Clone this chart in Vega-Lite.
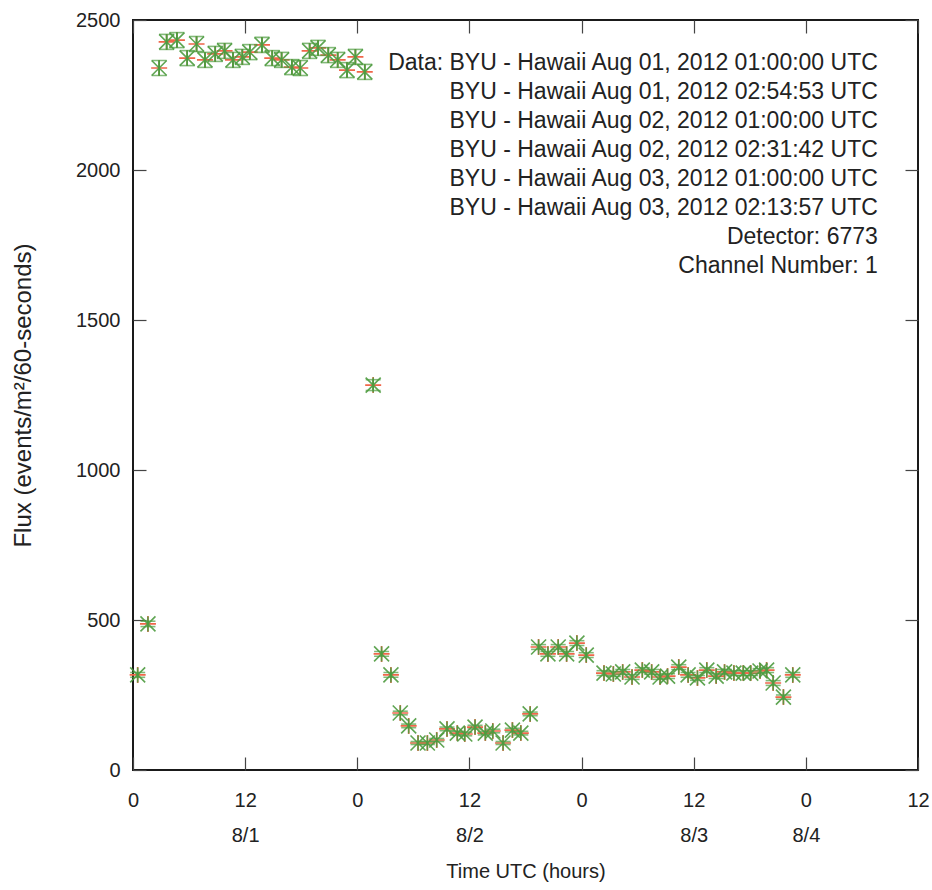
{
  "$schema": "https://vega.github.io/schema/vega-lite/v6.json",
  "width": 785,
  "height": 750,
  "autosize": "none",
  "padding": {"left": 133, "top": 20, "right": 14, "bottom": 120},
  "background": "white",
  "config": {
    "font": "Liberation Sans",
    "view": {"stroke": "#1a1a1a", "strokeWidth": 2},
    "axis": {"grid": false, "domain": false, "tickColor": "#444", "tickWidth": 1.2, "labelColor": "#222", "titleColor": "#222", "labelFont": "Liberation Sans", "titleFont": "Liberation Sans", "titleFontWeight": "normal"}
  },
  "data": {"values": [
    {"h": 0.5, "flux": 317, "err": 8},
    {"h": 1.6, "flux": 487, "err": 9},
    {"h": 2.8, "flux": 2340, "err": 25},
    {"h": 3.6, "flux": 2427, "err": 25},
    {"h": 4.7, "flux": 2433, "err": 25},
    {"h": 5.8, "flux": 2373, "err": 25},
    {"h": 6.8, "flux": 2420, "err": 25},
    {"h": 7.7, "flux": 2367, "err": 25},
    {"h": 8.8, "flux": 2387, "err": 25},
    {"h": 9.8, "flux": 2397, "err": 25},
    {"h": 10.7, "flux": 2367, "err": 25},
    {"h": 11.7, "flux": 2377, "err": 25},
    {"h": 12.5, "flux": 2393, "err": 25},
    {"h": 13.8, "flux": 2417, "err": 25},
    {"h": 14.9, "flux": 2373, "err": 25},
    {"h": 15.9, "flux": 2367, "err": 25},
    {"h": 17.0, "flux": 2343, "err": 25},
    {"h": 17.9, "flux": 2340, "err": 25},
    {"h": 18.9, "flux": 2397, "err": 25},
    {"h": 19.8, "flux": 2407, "err": 25},
    {"h": 20.9, "flux": 2383, "err": 25},
    {"h": 21.9, "flux": 2367, "err": 25},
    {"h": 22.9, "flux": 2333, "err": 25},
    {"h": 23.8, "flux": 2377, "err": 25},
    {"h": 24.8, "flux": 2327, "err": 25},
    {"h": 25.7, "flux": 1283, "err": 18},
    {"h": 26.6, "flux": 387, "err": 8},
    {"h": 27.6, "flux": 317, "err": 8},
    {"h": 28.6, "flux": 190, "err": 6},
    {"h": 29.5, "flux": 147, "err": 6},
    {"h": 30.5, "flux": 90, "err": 5},
    {"h": 31.5, "flux": 90, "err": 5},
    {"h": 32.5, "flux": 100, "err": 5},
    {"h": 33.6, "flux": 137, "err": 6},
    {"h": 34.7, "flux": 123, "err": 6},
    {"h": 35.5, "flux": 120, "err": 6},
    {"h": 36.6, "flux": 143, "err": 6},
    {"h": 37.7, "flux": 123, "err": 6},
    {"h": 38.5, "flux": 130, "err": 6},
    {"h": 39.6, "flux": 90, "err": 5},
    {"h": 40.6, "flux": 133, "err": 6},
    {"h": 41.5, "flux": 123, "err": 6},
    {"h": 42.5, "flux": 187, "err": 6},
    {"h": 43.4, "flux": 410, "err": 8},
    {"h": 44.4, "flux": 387, "err": 8},
    {"h": 45.5, "flux": 410, "err": 8},
    {"h": 46.4, "flux": 387, "err": 8},
    {"h": 47.5, "flux": 423, "err": 8},
    {"h": 48.5, "flux": 383, "err": 8},
    {"h": 50.4, "flux": 323, "err": 8},
    {"h": 51.4, "flux": 320, "err": 8},
    {"h": 52.4, "flux": 327, "err": 8},
    {"h": 53.4, "flux": 310, "err": 8},
    {"h": 54.5, "flux": 333, "err": 8},
    {"h": 55.5, "flux": 327, "err": 8},
    {"h": 56.4, "flux": 310, "err": 8},
    {"h": 57.2, "flux": 313, "err": 8},
    {"h": 58.4, "flux": 343, "err": 8},
    {"h": 59.4, "flux": 317, "err": 8},
    {"h": 60.4, "flux": 307, "err": 8},
    {"h": 61.4, "flux": 333, "err": 8},
    {"h": 62.4, "flux": 313, "err": 8},
    {"h": 63.3, "flux": 327, "err": 8},
    {"h": 64.3, "flux": 323, "err": 8},
    {"h": 65.3, "flux": 323, "err": 8},
    {"h": 66.1, "flux": 323, "err": 8},
    {"h": 67.1, "flux": 330, "err": 8},
    {"h": 67.8, "flux": 333, "err": 8},
    {"h": 68.5, "flux": 290, "err": 8},
    {"h": 69.6, "flux": 243, "err": 7},
    {"h": 70.6, "flux": 317, "err": 8}
  ]},
  "layer": [
    {
      "mark": {"type": "point", "shape": "M-1,0L1,0M0,-1L0,1", "filled": false, "size": 256, "color": "#f0664a", "strokeWidth": 1.6, "opacity": 1},
      "encoding": {
        "x": {"field": "h", "type": "quantitative", "scale": {"domain": [0, 84], "nice": false, "zero": false},
          "axis": {"orient": "bottom", "values": [0, 12, 24, 36, 48, 60, 72, 84], "tickSize": -13, "labelPadding": 33, "labelFontSize": 20, "labelLineHeight": 35, "labelFlush": false, "labelOverlap": false,
            "labelExpr": "datum.value == 12 ? ['12','8/1'] : datum.value == 36 ? ['12','8/2'] : datum.value == 60 ? ['12','8/3'] : datum.value == 72 ? ['0','8/4'] : (datum.value % 24 == 0 ? '0' : '12')",
            "title": "Time UTC (hours)", "titleFontSize": 20, "titlePadding": 16}},
        "y": {"field": "flux", "type": "quantitative", "scale": {"domain": [0, 2500], "nice": false},
          "axis": {"orient": "left", "values": [0, 500, 1000, 1500, 2000, 2500], "format": "d", "tickSize": -13, "labelPadding": 26, "labelFontSize": 20, "labelFlush": false, "labelOverlap": false,
            "title": "Flux (events/m²/60-seconds)", "titleFontSize": 24, "titlePadding": 40}}
      }
    },
    {
      "mark": {"type": "errorbar", "ticks": {"size": 15, "color": "#4e9c40", "strokeWidth": 1.6}, "color": "#4e9c40", "thickness": 1.6},
      "encoding": {
        "x": {"field": "h", "type": "quantitative", "scale": {"domain": [0, 84], "nice": false, "zero": false},
          "axis": {"orient": "top", "values": [0, 12, 24, 36, 48, 60, 72, 84], "tickSize": -13, "labels": false, "title": null}},
        "y": {"field": "flux", "type": "quantitative", "scale": {"domain": [0, 2500], "nice": false},
          "axis": {"orient": "right", "values": [0, 500, 1000, 1500, 2000, 2500], "tickSize": -13, "labels": false, "title": null}},
        "yError": {"field": "err"}
      }
    },
    {
      "mark": {"type": "point", "shape": "M-1,-1L1,1M-1,1L1,-1M0,-1L0,1", "filled": false, "size": 225, "color": "#4e9c40", "strokeWidth": 1.6, "opacity": 0.9},
      "encoding": {
        "x": {"field": "h", "type": "quantitative", "scale": {"domain": [0, 84], "nice": false, "zero": false}, "axis": null},
        "y": {"field": "flux", "type": "quantitative", "scale": {"domain": [0, 2500], "nice": false}, "axis": null}
      }
    },
    {
      "data": {"values": [{}]},
      "mark": {"type": "text", "align": "right", "baseline": "alphabetic", "lineHeight": 29, "fontSize": 23, "font": "Liberation Sans", "color": "#222",
        "text": ["Data: BYU - Hawaii Aug 01, 2012 01:00:00 UTC", "BYU - Hawaii Aug 01, 2012 02:54:53 UTC", "BYU - Hawaii Aug 02, 2012 01:00:00 UTC", "BYU - Hawaii Aug 02, 2012 02:31:42 UTC", "BYU - Hawaii Aug 03, 2012 01:00:00 UTC", "BYU - Hawaii Aug 03, 2012 02:13:57 UTC", "Detector: 6773", "Channel Number: 1"]},
      "encoding": {
        "x": {"datum": 79.7, "type": "quantitative", "scale": {"domain": [0, 84], "nice": false, "zero": false}, "axis": null},
        "y": {"datum": 2333, "type": "quantitative", "scale": {"domain": [0, 2500], "nice": false}, "axis": null}
      }
    }
  ],
  "resolve": {"axis": {"x": "independent", "y": "independent"}}
}
